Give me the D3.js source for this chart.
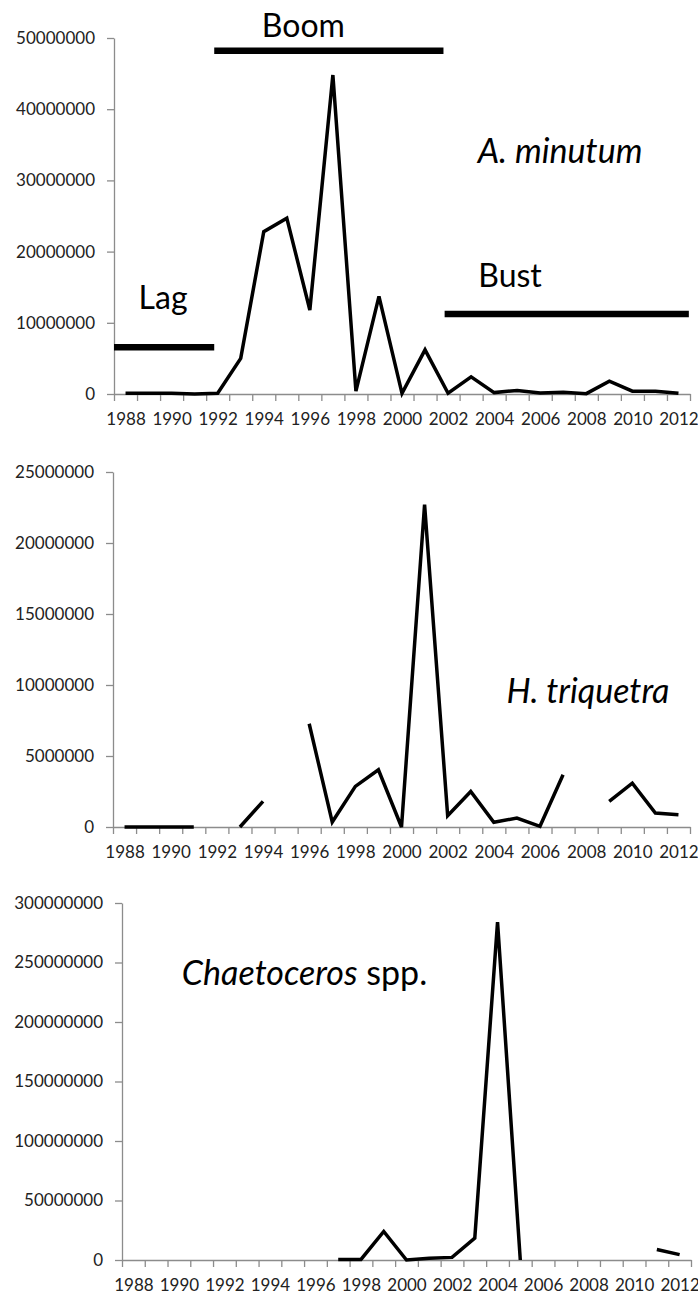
<!DOCTYPE html>
<html>
<head>
<meta charset="utf-8">
<script src="https://cdn.jsdelivr.net/npm/d3@7"></script>
<style>
  body { margin: 0; background: #fff; }
  svg { display: block; }
</style>
</head>
<body>
<svg id="chart" width="698" height="1296"></svg>
<script>
// Yearly cell abundance, 1988–2012 (null = no sample that year)
const years = [1988, 1989, 1990, 1991, 1992, 1993, 1994, 1995, 1996, 1997, 1998, 1999, 2000,
               2001, 2002, 2003, 2004, 2005, 2006, 2007, 2008, 2009, 2010, 2011, 2012];
const yearLabels = [1988, 1990, 1992, 1994, 1996, 1998, 2000, 2002, 2004, 2006, 2008, 2010, 2012];

const aMinutum = [100000, 100000, 100000, 0, 100000, 5000000, 22800000, 24700000, 11800000,
                  44800000, 400000, 13700000, 100000, 6200000, 100000, 2400000, 200000, 500000,
                  150000, 250000, 50000, 1800000, 400000, 400000, 100000];
const hTriquetra = [0, 0, 0, 0, null, 0, 1800000, null, 7270000, 350000, 2860000, 4030000, 0,
                    22700000, 800000, 2500000, 330000, 630000, 50000, 3680000, null, 1800000,
                    3090000, 980000, 870000];
const chaetoceros = [null, null, null, null, null, null, null, null, null,
                     500000, 500000, 24000000, 0, 1500000, 2200000, 18400000, 284000000, 0,
                     null, null, null, null, null, 8800000, 4500000];

const ticksA = [0, 10000000, 20000000, 30000000, 40000000, 50000000];
const ticksH = [0, 5000000, 10000000, 15000000, 20000000, 25000000];
const ticksC = [0, 50000000, 100000000, 150000000, 200000000, 250000000, 300000000];

// Bloom phases for A. minutum: [start year, end year, level]
const phaseNames = ["Lag", "Boom", "Bust"];
const phaseSpans = [[1987.5, 1991.85], [1991.85, 2001.8], [2001.85, 2012.45]];
const phaseLevels = [6550000, 48200000, 11250000];

const FONT = "Lato, 'Open Sans', sans-serif";
const AXIS = "#8c8c8c";
const TEXT = "#222";

const svg = d3.select("#chart");

function drawPanel(cfg) {
  const x = d3.scaleLinear()
    .domain([years[0] - 0.5, years[years.length - 1] + 0.5])
    .range([cfg.left, cfg.right]);
  const y = d3.scaleLinear().domain([0, cfg.ticks[cfg.ticks.length - 1]])
    .range([cfg.bottom, cfg.top]);
  const g = svg.append("g");

  // category boundary tick marks
  const bounds = years.map(v => v - 0.5).concat([years[years.length - 1] + 0.5]);
  const xt = g.append("g").attr("transform", `translate(0,${cfg.bottom})`)
    .call(d3.axisBottom(x).tickValues(bounds).tickSize(7).tickSizeOuter(0).tickFormat(""));
  xt.selectAll("line, path").attr("stroke", AXIS).attr("stroke-width", 1.3);

  // year labels every second category
  const xl = g.append("g").attr("transform", `translate(0,${cfg.bottom})`)
    .call(d3.axisBottom(x).tickValues(yearLabels).tickSize(0).tickPadding(19)
      .tickFormat(d3.format("d")));
  xl.select(".domain").remove();
  xl.selectAll("text").attr("font-family", FONT).attr("font-size", 17).attr("fill", TEXT);

  // value axis
  const ya = g.append("g").attr("transform", `translate(${cfg.left},0)`)
    .call(d3.axisLeft(y).tickValues(cfg.ticks).tickSize(7).tickSizeOuter(0).tickPadding(12)
      .tickFormat(d3.format("d")));
  ya.selectAll("line, path").attr("stroke", AXIS).attr("stroke-width", 1.3);
  ya.selectAll("text").attr("font-family", FONT).attr("font-size", 17).attr("fill", TEXT);

  // series line, broken where a year is missing
  const line = d3.line()
    .defined(d => d.v !== null)
    .x(d => x(d.year))
    .y(d => y(d.v));
  g.append("path")
    .datum(years.map((yr, i) => ({ year: yr, v: cfg.values[i] })))
    .attr("d", line)
    .attr("fill", "none")
    .attr("stroke", "#000")
    .attr("stroke-width", 3.5)
    .attr("stroke-linejoin", "miter");

  return { g, x, y };
}

// Panel 1: A. minutum
const p1 = drawPanel({ left: 114, right: 690, top: 38, bottom: 394, ticks: ticksA, values: aMinutum });
p1.g.selectAll(".phase")
  .data(phaseNames)
  .join("line")
  .attr("class", "phase")
  .attr("x1", (d, i) => p1.x(phaseSpans[i][0]))
  .attr("x2", (d, i) => p1.x(phaseSpans[i][1]))
  .attr("y1", (d, i) => p1.y(phaseLevels[i]))
  .attr("y2", (d, i) => p1.y(phaseLevels[i]))
  .attr("stroke", "#000")
  .attr("stroke-width", 6.5);

const phaseLabelAt = { Lag: [1989.63, 11900000], Boom: [1995.72, 50100000], Bust: [2004.69, 15000000] };
p1.g.selectAll(".phase-label")
  .data(phaseNames)
  .join("text")
  .attr("class", "phase-label")
  .attr("x", d => p1.x(phaseLabelAt[d][0]))
  .attr("y", d => p1.y(phaseLabelAt[d][1]))
  .attr("text-anchor", "middle")
  .attr("font-family", FONT)
  .attr("font-size", 32)
  .attr("fill", "#000")
  .text(d => d);

p1.g.append("text")
  .attr("x", p1.x(2006.86)).attr("y", p1.y(32400000))
  .attr("text-anchor", "middle")
  .attr("font-family", FONT).attr("font-size", 34).attr("font-style", "italic")
  .text("A. minutum");

// Panel 2: H. triquetra
const p2 = drawPanel({ left: 113, right: 690, top: 472, bottom: 827, ticks: ticksH, values: hTriquetra });
p2.g.append("text")
  .attr("x", p2.x(2008.08)).attr("y", p2.y(8720000))
  .attr("text-anchor", "middle")
  .attr("font-family", FONT).attr("font-size", 34).attr("font-style", "italic")
  .text("H. triquetra");

// Panel 3: Chaetoceros spp.
const p3 = drawPanel({ left: 122, right: 691, top: 903, bottom: 1260, ticks: ticksC, values: chaetoceros });
const ct = p3.g.append("text")
  .attr("x", p3.x(1995.52)).attr("y", p3.y(231000000))
  .attr("text-anchor", "middle")
  .attr("font-family", FONT).attr("font-size", 34);
ct.append("tspan").attr("font-style", "italic").text("Chaetoceros");
ct.append("tspan").text(" spp.");
</script>
</body>
</html>
